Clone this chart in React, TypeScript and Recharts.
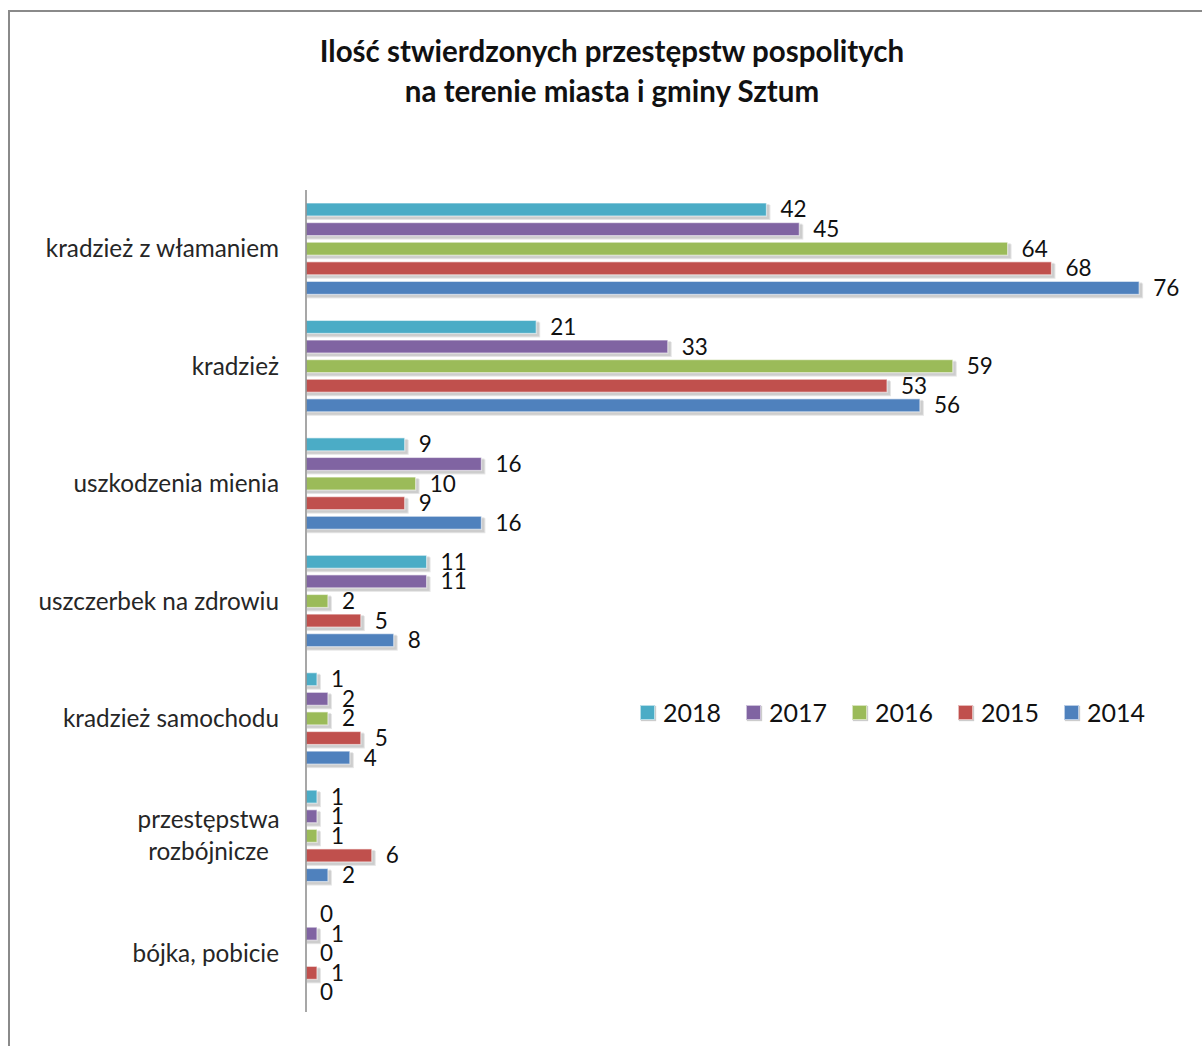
import React from 'react';
import { BarChart, Bar, XAxis, YAxis, LabelList } from 'recharts';

const categories = [
  'kradzież z włamaniem',
  'kradzież',
  'uszkodzenia mienia',
  'uszczerbek na zdrowiu',
  'kradzież samochodu',
  'przestępstwa\nrozbójnicze',
  'bójka, pobicie',
];

const v2018 = [42, 21, 9, 11, 1, 1, 0];
const v2017 = [45, 33, 16, 11, 2, 1, 1];
const v2016 = [64, 59, 10, 2, 2, 1, 0];
const v2015 = [68, 53, 9, 5, 5, 6, 1];
const v2014 = [76, 56, 16, 8, 4, 2, 0];

const seriesNames = ['2018', '2017', '2016', '2015', '2014'];
const seriesValues = [v2018, v2017, v2016, v2015, v2014];
const seriesColors = ['#4BACC6', '#8064A2', '#9BBB59', '#C0504D', '#4F81BD'];

const titleLines = ['Ilość stwierdzonych przestępstw pospolitych', 'na terenie miasta i gminy Sztum'];

const data = categories.map((name, i) => {
  const row: any = { name };
  seriesNames.forEach((s, k) => {
    row['y' + s] = seriesValues[k][i];
  });
  return row;
});

const FONT = 'Lato, "Open Sans", sans-serif';
const CAT_FS = 24.3;

const BarShape = (props: any) => {
  const { x, y, width, height, fill } = props;
  if (width == null || height == null) return null;
  const w = Math.max(0, width);
  if (w <= 0) return null;
  return (
    <g>
      <rect x={x + 1} y={y + 2} width={w + 3} height={height + 2} fill="#000" opacity={0.1} />
      <rect x={x + 1} y={y + 1} width={w + 2} height={height + 2} fill="#000" opacity={0.1} />
      <rect x={x} y={y} width={w} height={height} fill={fill} stroke="#ffffff" strokeOpacity={0.55} strokeWidth={1.2} />
    </g>
  );
};

const CategoryTick = (props: any) => {
  const { x, y, payload } = props;
  const lines: string[] = String(payload.value).split('\n');
  const n = lines.length;
  if (n === 1) {
    return (
      <text x={x} y={y} dy="0.35em" textAnchor="end" fontFamily={FONT} fontSize={CAT_FS} fill="#262626">
        {lines[0]}
      </text>
    );
  }
  const maxChars = Math.max(...lines.map((l) => l.length));
  const cx = x - (maxChars * 11.75) / 2;
  return (
    <g>
      {lines.map((l, i) => (
        <text
          key={i}
          x={cx}
          y={y + (i - (n - 1) / 2) * 32}
          dy="0.35em"
          textAnchor="middle"
          fontFamily={FONT}
          fontSize={CAT_FS}
          fill="#262626"
        >
          {l}
        </text>
      ))}
    </g>
  );
};

export default function App() {
  return (
    <div style={{ position: 'fixed', left: 0, top: 0, width: 1202, height: 1046, overflow: 'hidden', background: '#fff' }}>
      <div
        style={{
          position: 'absolute',
          left: 8,
          top: 10,
          width: 1300,
          height: 1100,
          border: '2px solid #8a8a8a',
          boxSizing: 'border-box',
        }}
      />
      <div
        style={{
          position: 'absolute',
          left: 0,
          top: 31,
          width: 1224,
          textAlign: 'center',
          fontFamily: FONT,
          fontWeight: 700,
          fontSize: 29.5,
          lineHeight: '40px',
          color: '#111',
        }}
      >
        {titleLines.map((t, i) => (
          <div key={i}>{t}</div>
        ))}
      </div>
      <div style={{ position: 'absolute', left: 0, top: 0 }}>
        <BarChart
          width={1202}
          height={1046}
          layout="vertical"
          data={data}
          margin={{ top: 190, right: 19, bottom: 34, left: 10 }}
          barSize={13}
          barGap={6.6}
        >
          <XAxis type="number" domain={[0, 80]} hide />
          <YAxis
            type="category"
            dataKey="name"
            width={296}
            tickLine={false}
            tickSize={0}
            tickMargin={27}
            axisLine={{ stroke: '#8a8a8a', strokeWidth: 1.5 }}
            tick={<CategoryTick />}
            interval={0}
          />
          {seriesNames.map((s, k) => (
            <Bar key={s} dataKey={'y' + s} name={s} fill={seriesColors[k]} isAnimationActive={false} shape={<BarShape />}>
              <LabelList
                dataKey={'y' + s}
                position="right"
                offset={14}
                style={{ fontFamily: FONT, fontSize: 22.5, fill: '#111' }}
              />
            </Bar>
          ))}
        </BarChart>
      </div>
      <div
        style={{
          position: 'absolute',
          left: 640,
          top: 697,
          display: 'flex',
          alignItems: 'center',
          fontFamily: FONT,
          fontSize: 25,
          color: '#111',
          whiteSpace: 'nowrap',
        }}
      >
        {seriesNames.map((s, k) => (
          <div key={s} style={{ display: 'flex', alignItems: 'center', marginRight: 25 }}>
            <span
              style={{
                display: 'inline-block',
                width: 13,
                height: 13,
                background: seriesColors[k],
                border: '1px solid rgba(255,255,255,0.6)',
                boxShadow: '1px 1px 1px rgba(0,0,0,0.2)',
                marginRight: 8,
              }}
            />
            <span>{s}</span>
          </div>
        ))}
      </div>
    </div>
  );
}
